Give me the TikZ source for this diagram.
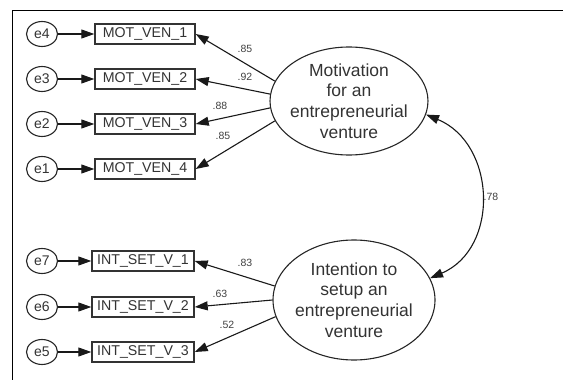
\documentclass[tikz,border=0pt]{standalone}
\usepackage{fontspec}
\setmainfont{Liberation Sans}
\usetikzlibrary{arrows.meta,shapes.geometric}
\begin{document}
\begin{tikzpicture}[x=1pt, y=-1pt,
	err/.style={draw=black!85, ellipse, line width=1.1pt, minimum width=31pt, minimum height=25pt, inner sep=0pt, text=black!80, font=\fontsize{14}{16}\selectfont},
	obs/.style={draw=black!80, line width=1.4pt, minimum width=100pt, minimum height=20pt, inner sep=0pt, text=black!80, font=\fontsize{14.2}{16}\selectfont},
	lat/.style={draw=black!85, ellipse, line width=1.1pt, inner sep=-12pt, align=center, text=black!80, font=\fontsize{17.5}{20.8}\selectfont},
	lbl/.style={inner sep=0pt, text=black!75, font=\fontsize{10.5}{12}\selectfont},
	reg/.style={draw=black!90, line width=1.1pt, -{Triangle[length=13pt, width=9pt]}},
	cov/.style={draw=black!90, line width=1.1pt, {Triangle[length=13pt, width=9pt]}-{Triangle[length=13pt, width=9pt]}}]
	\useasboundingbox (0,0) rectangle (563,380);
	\draw [line width=1pt] (12,380) -- (12,10) -- (563,10);

	\node [lat, minimum width=158pt, minimum height=108pt] (mot) at (349,101) {Motivation\\for an\\entrepreneurial\\venture};
	\node [lat, minimum width=162pt, minimum height=120pt] (int) at (354,300) {Intention to\\setup an\\entrepreneurial\\venture};

	\node [obs] (mv1) at (145,34) {MOT\_VEN\_1};
	\node [obs] (mv2) at (145,79) {MOT\_VEN\_2};
	\node [obs] (mv3) at (145,124) {MOT\_VEN\_3};
	\node [obs] (mv4) at (145,169) {MOT\_VEN\_4};
	\node [obs, minimum width=102pt] (is1) at (143,261) {INT\_SET\_V\_1};
	\node [obs, minimum width=102pt] (is2) at (143,307) {INT\_SET\_V\_2};
	\node [obs, minimum width=102pt] (is3) at (143,352) {INT\_SET\_V\_3};

	\node [err] (e4) at (42,34) {e4};
	\node [err] (e3) at (42,79) {e3};
	\node [err] (e2) at (42,124) {e2};
	\node [err] (e1) at (42,169) {e1};
	\node [err] (e7) at (42,261) {e7};
	\node [err] (e6) at (42,307) {e6};
	\node [err] (e5) at (42,352) {e5};

	\draw [reg] (e4) -- (mv1);
	\draw [reg] (e3) -- (mv2);
	\draw [reg] (e2) -- (mv3);
	\draw [reg] (e1) -- (mv4);
	\draw [reg] (e7) -- (is1);
	\draw [reg] (e6) -- (is2);
	\draw [reg] (e5) -- (is3);

	\draw [reg] (mot.165) -- (mv1.east);
	\draw [reg] (mot.175) -- (mv2.east);
	\draw [reg] (mot.185) -- (mv3.east);
	\draw [reg] (mot.195) -- (mv4.east);
	\draw [reg] (int.170) -- (is1.east);
	\draw [reg] (int.180) -- (is2.east);
	\draw [reg] (int.192) -- (is3.east);
	\draw [cov] (mot.-10) .. controls +(70,29) and +(70,-30) .. (int.16);

	\node [lbl] (w1) at (245,49) {.85};
	\node [lbl] (w2) at (245,77) {.92};
	\node [lbl] (w3) at (220,106) {.88};
	\node [lbl] (w4) at (223,136) {.85};
	\node [lbl] (w5) at (245,263) {.83};
	\node [lbl] (w6) at (220,294) {.63};
	\node [lbl] (w7) at (227,325) {.52};
	\node [lbl] (r1) at (491,197) {.78};
\end{tikzpicture}
\end{document}
